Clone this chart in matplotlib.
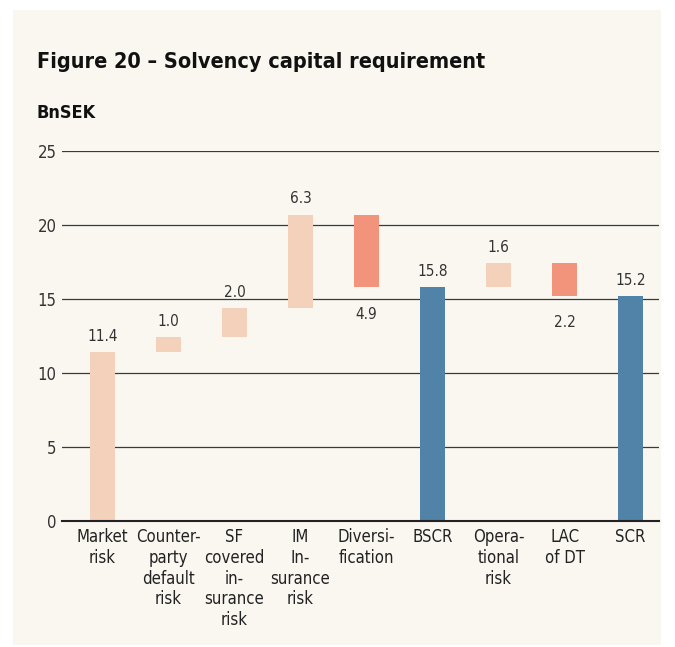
import matplotlib.pyplot as plt
from matplotlib.patches import Rectangle

plt.rcParams['font.family'] = ['DejaVu Sans']
plt.rcParams['font.stretch'] = 'condensed'

categories = ["Market\nrisk", "Counter-\nparty\ndefault\nrisk", "SF\ncovered\nin-\nsurance\nrisk",
              "IM\nIn-\nsurance\nrisk", "Diversi-\nfication", "BSCR", "Opera-\ntional\nrisk",
              "LAC\nof DT", "SCR"]
bottoms = [0, 11.4, 12.4, 14.4, 15.8, 0, 15.8, 15.2, 0]
tops = [11.4, 12.4, 14.4, 20.7, 20.7, 15.8, 17.4, 17.4, 15.2]
labels = ["11.4", "1.0", "2.0", "6.3", "4.9", "15.8", "1.6", "2.2", "15.2"]
kinds = ["up", "up", "up", "up", "down", "total", "up", "down", "total"]

colours = {"up": "#F4D1BA", "down": "#F2937B", "total": "#5182A7"}
bg = "#FAF7F1"

fig = plt.figure(figsize=(6.75, 6.47), dpi=100)
fig.patch.set_facecolor("white")
fig.patches.append(Rectangle((13 / 675, 1 - 645 / 647), 648 / 675, 635 / 647,
                             transform=fig.transFigure, facecolor=bg, edgecolor="none", zorder=-5))

ax = fig.add_axes([62 / 675, 1 - 521 / 647, (659 - 62) / 675, 370 / 647])
ax.patch.set_alpha(0)

x = list(range(len(categories)))
heights = [t - b for t, b in zip(tops, bottoms)]
ax.bar(x, heights, bottom=bottoms, width=0.38, color=[colours[k] for k in kinds], zorder=3)

for i in x:
    if kinds[i] == "down":
        ax.annotate(labels[i], (i, bottoms[i]), xytext=(0, -14), textcoords="offset points",
                    ha="center", va="top", fontsize=11, color="#333333", zorder=4)
    else:
        ax.annotate(labels[i], (i, tops[i]), xytext=(0, 6), textcoords="offset points",
                    ha="center", va="bottom", fontsize=11, color="#333333", zorder=4)

ax.set_ylim(0, 25)
ax.set_xlim(-0.614, 8.43)
ax.set_yticks([0, 5, 10, 15, 20, 25])
ax.yaxis.grid(True, color="#3a3a3a", linewidth=0.9, zorder=1)
ax.set_axisbelow(True)
for s in ["top", "right", "left"]:
    ax.spines[s].set_visible(False)
ax.spines["bottom"].set_color("#222222")
ax.spines["bottom"].set_linewidth(1.5)
ax.spines["bottom"].set_zorder(5)
ax.tick_params(axis="y", length=0, pad=4, labelsize=12, labelcolor="#333333")
ax.set_xticks(x)
ax.set_xticklabels(categories, fontsize=12, color="#222222", linespacing=1.2)
ax.tick_params(axis="x", length=0, pad=5)

fig.text(37 / 675, 1 - 62 / 647, "Figure 20 \u2013 Solvency capital requirement",
         fontsize=15.5, fontweight="bold", color="#111111", va="center")
fig.text(37 / 675, 1 - 113 / 647, "BnSEK", fontsize=13, fontweight="bold", color="#111111", va="center")

fig.savefig("out.png", dpi=100, facecolor=fig.get_facecolor())
